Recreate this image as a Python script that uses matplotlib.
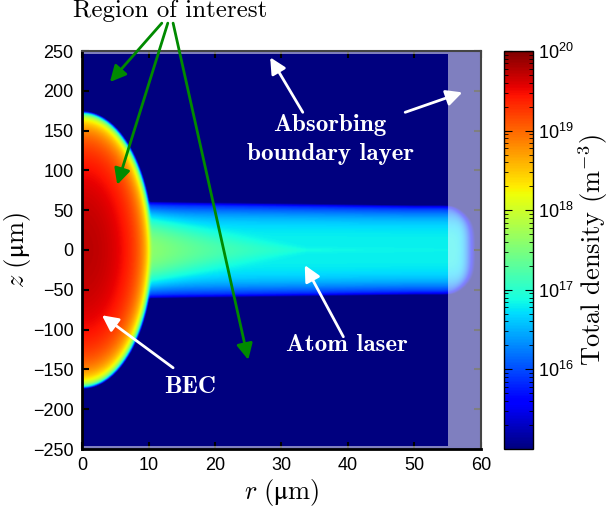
import numpy as np
import matplotlib.pyplot as plt
from matplotlib.colors import LogNorm
from matplotlib.patches import Rectangle

## Data ------------------------------------------------------------------
# plot window (um)
r_range = [0, 60]
z_range = [-250, 250]

# condensate (Thomas-Fermi column profile)
bec_peak = 5.5e19        # m^-3
bec_r_radius = 10.4      # um
bec_z_radius = 172.0     # um

# outcoupled atom laser beam
laser_peak = 6.5e16      # m^-3
laser_half_width = 42.0  # um
laser_exponent = 3.6
laser_edge = 55.0        # um
laser_spread = 0.08      # extra width next to the BEC
laser_end = 57.5         # um
wedge_peak = 3.5e17      # m^-3, bright core next to the BEC
wedge_start = 10.0
wedge_decay = 8.0
wedge_half_width = 30.0
wedge_length = 25.0
background = 1e13

# absorbing boundary layer
absorber_r = 55.0
absorber_z = 246.0

# colour scale
density_min, density_max = 1e15, 1e20
cbar_ticks = [1e16, 1e17, 1e18, 1e19, 1e20]
cbar_labels = ["16", "17", "18", "19", "20"]

# annotation arrows: (tip, tail) in data units
green_tips = [(4.2, 211), (5.3, 82), (25.0, -138)]
green_tails = [(12.0, 285), (12.9, 285), (13.7, 285)]
white_arrows = [
    ((28.3, 242), (33.2, 173)),
    ((57.2, 198), (48.6, 173)),
    ((33.5, -19), (39.3, -109)),
    ((3.0, -82), (13.7, -148)),
]


## Density field ----------------------------------------------------------
def blur(a, sigma, axis):
    half = int(np.ceil(4 * sigma))
    k = np.exp(-0.5 * (np.arange(-half, half + 1) / sigma) ** 2)
    k /= k.sum()
    pad = [(0, 0), (0, 0)]
    pad[axis] = (half, half)
    ap = np.pad(a, pad, mode="reflect")
    return np.apply_along_axis(lambda v: np.convolve(v, k, mode="valid"), axis, ap)


r = np.linspace(r_range[0], r_range[1], 601)
z = np.linspace(z_range[0], z_range[1], 501)
R, Z = np.meshgrid(r, z)

u = 1 - (R / bec_r_radius) ** 2 - (Z / bec_z_radius) ** 2
n_bec = bec_peak * np.clip(u, 0, None) ** 1.5

spread = 1 + laser_spread * np.clip(1 - (R - wedge_start) / 40, 0, 1)
Zs = np.abs(Z) / spread
profile = np.exp(-(Zs / laser_half_width) ** laser_exponent) \
    * 0.5 * (1 - np.tanh((Zs - laser_edge) / 1.0))
r_end = laser_end - 2.0 * (Zs / laser_edge) ** 4
end = 0.5 * (1 - np.tanh((R - r_end) / 0.8))
n_laser = laser_peak * profile * end

w = wedge_half_width * np.clip(1 - (R - wedge_start) / wedge_length, 0.05, None)
n_wedge = wedge_peak * np.exp(-np.clip(R - wedge_start, 0, None) / wedge_decay) \
    * np.exp(-(Z / w) ** 2) * profile * end

density = n_bec + n_laser + n_wedge + background
density = blur(density, 1.8, axis=1)
density = blur(density, 1.5, axis=0)

## Plotting ---------------------------------------------------------------
plt.rcParams["font.family"] = ["Liberation Sans", "DejaVu Sans"]
serif = ["cmr10", "DejaVu Serif"]
serif_bold = ["cmb10", "DejaVu Serif"]

fig = plt.figure(figsize=(6.13, 5.18), dpi=100)
ax = fig.add_axes([82 / 613, 69 / 518, 399 / 613, 398 / 518])
cax = fig.add_axes([504 / 613, 69 / 518, 29 / 613, 398 / 518])

im = ax.imshow(density, extent=[*r_range, *z_range], origin="lower",
               aspect="auto", cmap="jet",
               norm=LogNorm(density_min, density_max),
               interpolation="bilinear")

# absorbing layer overlay
strip = z_range[1] - absorber_z
layers = [
    ((absorber_r, z_range[0]), r_range[1] - absorber_r, z_range[1] - z_range[0]),
    ((r_range[0], absorber_z), absorber_r, strip),
    ((r_range[0], z_range[0]), absorber_r, strip),
]
for xy, wd, ht in layers:
    ax.add_patch(Rectangle(xy, wd, ht, facecolor="white", alpha=0.5,
                           linewidth=0, zorder=2))

ax.set_xlim(r_range)
ax.set_ylim(z_range)
ax.set_xticks(range(0, 61, 10))
ax.set_yticks(range(-250, 251, 50))
ax.tick_params(direction="in", top=True, right=True, length=5, width=1.5,
               labelsize=13, pad=6)
for side in ["left", "bottom"]:
    ax.spines[side].set_linewidth(2)
for side in ["top", "right"]:
    ax.spines[side].set_linewidth(1.5)
    ax.spines[side].set_color("#444444")

ax.set_xlabel(r"$r\ (\mathrm{μm})$", math_fontfamily="cm",
              fontsize=19, labelpad=2)
ax.set_ylabel(r"$z\ (\mathrm{μm})$", math_fontfamily="cm",
              fontsize=19, labelpad=0)

# text annotations
txt = dict(color="white", ha="center", va="center", fontsize=18,
           fontfamily=serif_bold, zorder=5)
ax.text(37.3, 139, "Absorbing\nboundary layer", linespacing=1.45, **txt)
ax.text(39.9, -119, "Atom laser", **txt)
ax.text(16.3, -172, "BEC", **txt)
ax.text(13.2, 300, "Region of interest", color="black", ha="center",
        va="center", fontsize=18, fontfamily=serif, clip_on=False)

for tip, tail in zip(green_tips, green_tails):
    ax.annotate("", xy=tip, xytext=tail, annotation_clip=False,
                arrowprops=dict(arrowstyle="-|>", color="#008a00", lw=2,
                                mutation_scale=24, shrinkA=0, shrinkB=0))
for tip, tail in white_arrows:
    ax.annotate("", xy=tip, xytext=tail, annotation_clip=False,
                arrowprops=dict(arrowstyle="-|>", color="white", lw=2,
                                mutation_scale=24, shrinkA=0, shrinkB=0))

# colour bar
cb = fig.colorbar(im, cax=cax)
cb.set_ticks(cbar_ticks)
cb.set_ticklabels([r"$\mathregular{10^{%s}}$" % s for s in cbar_labels])
cax.tick_params(which="both", direction="in", left=True, right=True,
                labelsize=13)
cax.tick_params(which="major", length=6)
cax.tick_params(which="minor", length=3)
cb.outline.set_linewidth(1)
cb.set_label("Total density (m$^{-3}$)", fontfamily=serif,
             math_fontfamily="cm", fontsize=19, labelpad=2)

fig.savefig("out.png", dpi=100)
